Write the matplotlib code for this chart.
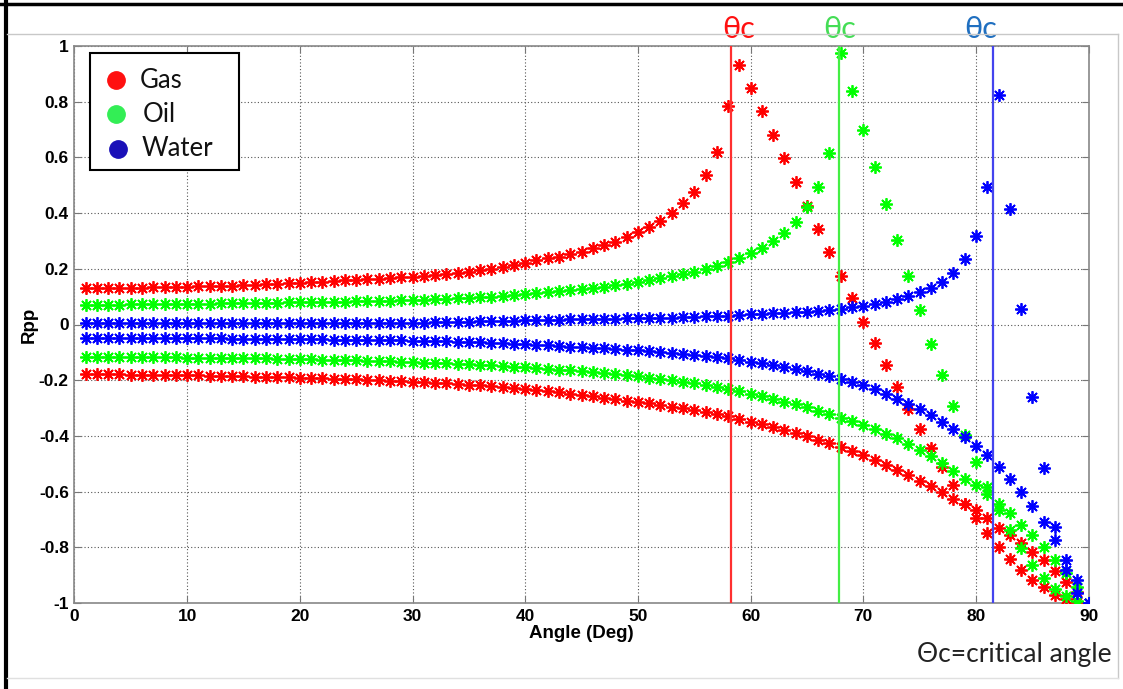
import matplotlib.pyplot as plt
from matplotlib.lines import Line2D
from matplotlib.patches import Rectangle

plt.rcParams['axes.unicode_minus'] = False

# incidence angle, degrees
angles = list(range(1, 91))

# Rpp for the two branches of each fluid
gas_upper = [0.130, 0.130, 0.131, 0.131, 0.132, 0.132, 0.133, 0.134, 0.135, 0.136,
             0.137, 0.138, 0.139, 0.140, 0.142, 0.143, 0.145, 0.146, 0.148, 0.150,
             0.152, 0.154, 0.156, 0.158, 0.160, 0.162, 0.164, 0.167, 0.170, 0.172,
             0.175, 0.179, 0.182, 0.186, 0.190, 0.195, 0.200, 0.206, 0.212, 0.220,
             0.230, 0.237, 0.244, 0.252, 0.262, 0.273, 0.285, 0.298, 0.313, 0.332,
             0.350, 0.373, 0.400, 0.435, 0.477, 0.537, 0.621, 0.783, 0.933, 0.849,
             0.767, 0.681, 0.597, 0.510, 0.426, 0.342, 0.259, 0.175, 0.096, 0.008,
             -0.068, -0.147, -0.226, -0.305, -0.376, -0.445, -0.511, -0.577, -0.645, -0.693,
             -0.748, -0.798, -0.843, -0.882, -0.918, -0.944, -0.972, -0.986, -0.996, -1.000]
gas_lower = [-0.178, -0.178, -0.179, -0.179, -0.180, -0.180, -0.181, -0.181, -0.182, -0.183,
             -0.183, -0.184, -0.185, -0.186, -0.186, -0.187, -0.188, -0.189, -0.190, -0.191,
             -0.192, -0.193, -0.195, -0.196, -0.197, -0.199, -0.200, -0.202, -0.204, -0.205,
             -0.207, -0.209, -0.211, -0.213, -0.216, -0.218, -0.221, -0.224, -0.227, -0.232,
             -0.236, -0.240, -0.244, -0.249, -0.254, -0.258, -0.263, -0.268, -0.273, -0.278,
             -0.283, -0.289, -0.295, -0.301, -0.307, -0.314, -0.321, -0.330, -0.340, -0.349,
             -0.359, -0.369, -0.380, -0.391, -0.402, -0.414, -0.427, -0.440, -0.455, -0.470,
             -0.487, -0.504, -0.522, -0.541, -0.561, -0.581, -0.603, -0.625, -0.643, -0.667,
             -0.693, -0.729, -0.756, -0.786, -0.816, -0.846, -0.886, -0.924, -0.962, -1.000]
oil_upper = [0.070, 0.070, 0.071, 0.071, 0.072, 0.072, 0.073, 0.073, 0.074, 0.074,
             0.075, 0.075, 0.076, 0.076, 0.077, 0.077, 0.078, 0.078, 0.079, 0.080,
             0.080, 0.081, 0.082, 0.082, 0.083, 0.084, 0.085, 0.086, 0.087, 0.088,
             0.089, 0.091, 0.092, 0.094, 0.096, 0.098, 0.100, 0.102, 0.105, 0.108,
             0.112, 0.116, 0.120, 0.124, 0.128, 0.132, 0.136, 0.141, 0.147, 0.153,
             0.159, 0.166, 0.173, 0.181, 0.190, 0.200, 0.211, 0.224, 0.238, 0.255,
             0.276, 0.301, 0.330, 0.369, 0.423, 0.492, 0.615, 0.974, 0.837, 0.699,
             0.567, 0.433, 0.302, 0.173, 0.051, -0.069, -0.182, -0.293, -0.397, -0.493,
             -0.583, -0.667, -0.738, -0.802, -0.862, -0.912, -0.948, -0.976, -0.994, -1.000]
oil_lower = [-0.116, -0.116, -0.116, -0.117, -0.117, -0.117, -0.118, -0.118, -0.118, -0.119,
             -0.119, -0.120, -0.120, -0.121, -0.121, -0.122, -0.122, -0.123, -0.124, -0.124,
             -0.125, -0.126, -0.127, -0.128, -0.129, -0.130, -0.131, -0.132, -0.134, -0.135,
             -0.137, -0.138, -0.140, -0.141, -0.143, -0.145, -0.147, -0.149, -0.151, -0.154,
             -0.156, -0.159, -0.162, -0.165, -0.168, -0.171, -0.174, -0.178, -0.182, -0.186,
             -0.191, -0.195, -0.200, -0.205, -0.211, -0.217, -0.223, -0.230, -0.240, -0.250,
             -0.257, -0.267, -0.277, -0.287, -0.298, -0.310, -0.322, -0.334, -0.346, -0.361,
             -0.375, -0.393, -0.409, -0.428, -0.450, -0.472, -0.499, -0.525, -0.553, -0.577,
             -0.607, -0.643, -0.678, -0.720, -0.756, -0.798, -0.844, -0.894, -0.942, -1.000]
water_upper = [0.004, 0.004, 0.004, 0.004, 0.004, 0.004, 0.004, 0.004, 0.004, 0.004,
               0.004, 0.004, 0.004, 0.004, 0.004, 0.004, 0.004, 0.004, 0.004, 0.004,
               0.005, 0.005, 0.005, 0.005, 0.006, 0.006, 0.006, 0.006, 0.006, 0.007,
               0.007, 0.008, 0.008, 0.009, 0.010, 0.011, 0.012, 0.013, 0.014, 0.015,
               0.016, 0.017, 0.017, 0.018, 0.019, 0.019, 0.020, 0.021, 0.022, 0.022,
               0.023, 0.024, 0.025, 0.026, 0.028, 0.029, 0.030, 0.032, 0.034, 0.036,
               0.038, 0.040, 0.042, 0.044, 0.046, 0.049, 0.053, 0.057, 0.062, 0.067,
               0.073, 0.080, 0.090, 0.101, 0.115, 0.131, 0.154, 0.186, 0.234, 0.316,
               0.493, 0.824, 0.416, 0.057, -0.259, -0.517, -0.727, -0.844, -0.918, -1.000]
water_lower = [-0.050, -0.050, -0.050, -0.050, -0.050, -0.050, -0.050, -0.050, -0.050, -0.050,
               -0.050, -0.050, -0.050, -0.051, -0.051, -0.051, -0.051, -0.052, -0.052, -0.052,
               -0.053, -0.053, -0.054, -0.054, -0.055, -0.055, -0.056, -0.057, -0.057, -0.058,
               -0.059, -0.060, -0.061, -0.062, -0.063, -0.064, -0.066, -0.067, -0.069, -0.071,
               -0.073, -0.075, -0.077, -0.079, -0.082, -0.084, -0.086, -0.088, -0.090, -0.092,
               -0.095, -0.098, -0.101, -0.105, -0.109, -0.113, -0.117, -0.122, -0.128, -0.134,
               -0.138, -0.145, -0.153, -0.160, -0.167, -0.176, -0.186, -0.196, -0.206, -0.219,
               -0.233, -0.251, -0.268, -0.286, -0.303, -0.326, -0.349, -0.376, -0.403, -0.437,
               -0.469, -0.511, -0.556, -0.601, -0.652, -0.708, -0.774, -0.880, -0.963, -1.000]

# critical angles (deg) and where their labels sit
crit_angles = [58.3, 67.8, 81.5]
crit_label_x = [58.9, 67.9, 80.4]

fluids = ['Gas', 'Oil', 'Water']
star_colors = ['#ff0000', '#00ff00', '#0000ff']
dot_colors = ['#ff1010', '#33ee55', '#1a10b8']
line_colors = ['#ff3030', '#44ee44', '#4444ee']
label_colors = ['#ff1010', '#44dd55', '#1f6fc0']

yticks = [1, 0.8, 0.6, 0.4, 0.2, 0, -0.2, -0.4, -0.6, -0.8, -1]
ytick_labels = ['1', '0.8', '0.6', '0.4', '0.2', '0', '-0.2', '-0.4', '-0.6', '-0.8', '-1']
xticks = [0, 10, 20, 30, 40, 50, 60, 70, 80, 90]

W, H = 1123, 689
fig = plt.figure(figsize=(W / 100, H / 100), dpi=100)


def fx(x):
    return x / W


def fy(y):
    return 1 - y / H


# slide frame around the plot
def fig_line(x0, y0, x1, y1, **kw):
    fig.add_artist(Line2D([fx(x0), fx(x1)], [fy(y0), fy(y1)],
                          transform=fig.transFigure, **kw))


fig_line(0, 4, W, 4, color='black', lw=2.5)
fig_line(5.5, 0, 5.5, H, color='black', lw=3)
fig_line(7, 34, 1118, 34, color='#c8c8c8', lw=1)
fig_line(1118, 34, 1118, 678, color='#c8c8c8', lw=1)
fig_line(7, 678, 1118, 678, color='#e0e0e0', lw=1)

left, right, top, bottom = 74.4, 1088.7, 46, 603
ax = fig.add_axes([fx(left), fy(bottom), (right - left) / W, (bottom - top) / H])

star = (8, 2, 0)
series = [(gas_upper, gas_lower), (oil_upper, oil_lower), (water_upper, water_lower)]
for (up, low), c in zip(series, star_colors):
    for vals in (up, low):
        ax.plot(angles, vals, linestyle='none', marker=star, ms=9, mew=1.3,
                color=c, zorder=3)

for crit, c in zip(crit_angles, line_colors):
    ax.axvline(crit, color=c, lw=1.6, zorder=4)

for lx, c in zip(crit_label_x, label_colors):
    ax.text(lx, 1.0 + 0.012, 'θc', color=c, fontsize=22,
            family=['Lato', 'DejaVu Sans'], ha='center', va='bottom', clip_on=False)

ax.set_xlim(0, 90)
ax.set_ylim(-1, 1)
ax.set_xticks(xticks)
ax.set_yticks(yticks)
ax.set_yticklabels(ytick_labels)
ax.grid(True, linestyle=(0, (1, 2)), color='#555555', lw=0.8)
ax.tick_params(direction='in', length=5, top=True, right=True, color='#777777',
               labelsize=12.5, pad=4)
for lab in ax.get_xticklabels() + ax.get_yticklabels():
    lab.set_fontweight('bold')
    lab.set_family('Liberation Sans')
for s in ax.spines.values():
    s.set_color('#888888')
    s.set_linewidth(1.2)

ax.set_xlabel('Angle (Deg)', fontsize=13.5, fontweight='bold', family='Liberation Sans',
              labelpad=1)
ax.set_ylabel('Rpp', fontsize=13.5, fontweight='bold', family='Liberation Sans',
              labelpad=1)

# legend box with round dots
fig.add_artist(Rectangle((fx(90), fy(170)), (239 - 90) / W, (170 - 53) / H,
                         transform=fig.transFigure, facecolor='white',
                         edgecolor='black', lw=1.5, zorder=6))
legend_rows = [80, 114, 149]
legend_dot_x = [116, 116, 118]
legend_text_x = [140, 143, 142]
for name, c, ry, dx, tx in zip(fluids, dot_colors, legend_rows, legend_dot_x, legend_text_x):
    fig.add_artist(Line2D([fx(dx)], [fy(ry)], marker='o', ms=12.5, color=c, mec=c,
                          linestyle='none', transform=fig.transFigure, zorder=7))
    fig.text(fx(tx), fy(ry), name, fontsize=18.5, family=['Lato', 'DejaVu Sans'],
             ha='left', va='center', color='#111111', zorder=7)

fig.text(fx(1112), fy(662), 'Θc=critical angle', fontsize=19,
         family=['Lato', 'DejaVu Sans'], ha='right', va='baseline', color='#222222')

fig.savefig('out.png', dpi=100)
